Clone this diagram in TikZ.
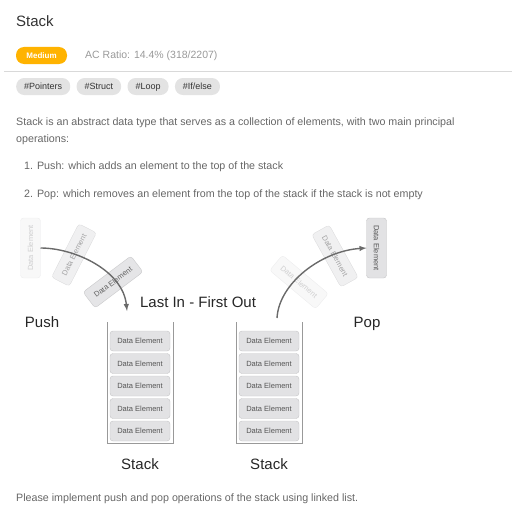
\documentclass[tikz,border=0pt]{standalone}
\usepackage{fontspec}
\setmainfont{Liberation Sans}
\usetikzlibrary{positioning}

\definecolor{badge}{HTML}{FFB300}
\definecolor{tagfill}{HTML}{E3E3E3}
\definecolor{elemfill}{HTML}{E2E2E4}
\definecolor{elemline}{HTML}{C4C4C6}
\definecolor{elemtext}{HTML}{555555}
\definecolor{bodytext}{HTML}{666666}
\definecolor{arrowgray}{HTML}{6A6A6A}

\tikzset{
  elem/.style={minimum width=60pt,minimum height=20pt,inner sep=0pt,outer sep=0pt,rounded corners=3pt,draw=elemline,fill=elemfill,text=elemtext,font=\fontsize{7.5}{8}\selectfont},
  tagpill/.style={minimum height=17pt,inner xsep=8pt,inner ysep=0pt,text height=7pt,text depth=2pt,rounded corners=8pt,fill=tagfill,text=black!80,font=\fontsize{9}{10}\selectfont},
  bodyline/.style={anchor=base west,inner sep=0pt,text=bodytext,font=\fontsize{10.7}{12}\selectfont},
  biglabel/.style={anchor=base,inner sep=0pt,text=black!85,font=\fontsize{15}{17}\selectfont},
  wall/.style={draw=black!40,line width=0.9pt},
  flow/.style={->,draw=arrowgray,line width=1.4pt}
}

\begin{document}
\begin{tikzpicture}[x=1pt,y=-1pt,>=latex]
	\useasboundingbox (0,0) rectangle (516,511);
	% header
	\node [anchor=base west,inner sep=0pt,text=black!80,font=\fontsize{15}{17}\selectfont] at (16,27) (title) {Stack};
	\node [minimum width=51pt,minimum height=17pt,inner sep=0pt,rounded corners=8pt,fill=badge,text=white,font=\bfseries\fontsize{8}{9}\selectfont] at (41.5,55.5) (level) {Medium};
	\node [anchor=base west,inner sep=0pt,text=black!40,font=\fontsize{10.5}{12}\selectfont] at (85,59) (ratio) {AC Ratio: 14.4\% (318/2207)};
	\draw [black!15,line width=0.8pt] (4,71) -- (512,71);
	\node [tagpill,anchor=west] at (16,86.5) (tagA) {\#Pointers};
	\node [tagpill,right=6pt of tagA] (tagB) {\#Struct};
	\node [tagpill,right=6pt of tagB] (tagC) {\#Loop};
	\node [tagpill,right=6pt of tagC] (tagD) {\#If/else};
	% description
	\node [bodyline] at (16,125) (line1) {Stack is an abstract data type that serves as a collection of elements, with two main principal};
	\node [bodyline] at (16,142) (line2) {operations:};
	\node [bodyline] at (24,169) (line3) {1. Push: which adds an element to the top of the stack};
	\node [bodyline] at (24,197) (line4) {2. Pop: which removes an element from the top of the stack if the stack is not empty};
	\node [bodyline] at (16,501) (line5) {Please implement push and pop operations of the stack using linked list.};
	% stacks
	\draw [wall] (107,322) |- (173,443) -- (173,322);
	\draw [wall] (236,322) |- (302,443) -- (302,322);
	\foreach \i/\y in {1/341,2/363.5,3/386,4/408.5,5/431} {
		\node [elem] at (140,\y) (lstack\i) {Data Element};
		\node [elem] at (269,\y) (rstack\i) {Data Element};
	}
	\node [biglabel] at (140,469) (lname) {Stack};
	\node [biglabel] at (269,469) (rname) {Stack};
	\node [biglabel] at (198,307) (motto) {Last In - First Out};
	\node [biglabel] at (42,327) (push) {Push};
	\node [biglabel] at (367,327) (pop) {Pop};
	% moving elements
	\node [elem,rotate=90,opacity=0.25] at (30.5,248) (pushsrc) {Data Element};
	\node [elem,rotate=63,opacity=0.5] at (74,255) (pushmid) {Data Element};
	\node [elem,rotate=37,opacity=0.9] at (113,282) (pushin) {Data Element};
	\node [elem,rotate=-40,opacity=0.25] at (299,282) (popout) {Data Element};
	\node [elem,rotate=-61,opacity=0.5] at (335,256) (popmid) {Data Element};
	\node [elem,rotate=-90] at (376.5,248) (popdst) {Data Element};
	\coordinate (pushend) at (127,311);
	\coordinate (popstart) at (277,318);
	\draw [flow] (pushsrc.south) .. controls +(35,0) and +(-4,-40) .. (pushend);
	\draw [flow] (popstart) .. controls +(2,-35) and +(-45,3) .. (popdst.south);
\end{tikzpicture}
\end{document}
